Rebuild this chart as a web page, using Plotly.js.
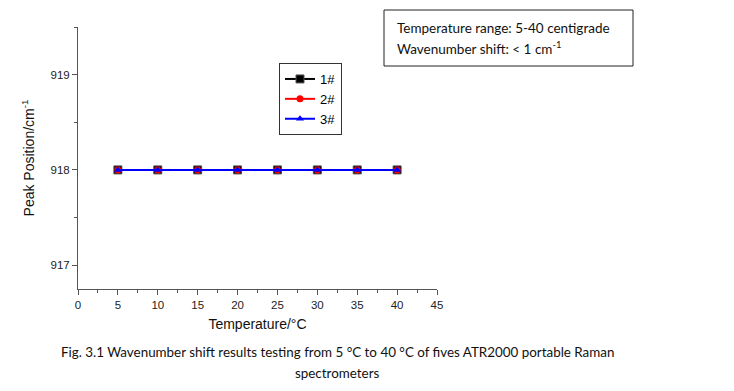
<!DOCTYPE html>
<html><head><meta charset="utf-8">
<script src="https://cdn.plot.ly/plotly-3.0.1.min.js"></script>
<style>html,body{margin:0;padding:0;background:#fff}#c{width:734px;height:391px}</style>
</head><body><div id="c"></div>
<script>
const temperature = [5, 10, 15, 20, 25, 30, 35, 40];
const peak1 = [918, 918, 918, 918, 918, 918, 918, 918];
const peak2 = [918, 918, 918, 918, 918, 918, 918, 918];
const peak3 = [918, 918, 918, 918, 918, 918, 918, 918];
const seriesNames = ['1#', '2#', '3#'];
const xTickVals = [0, 5, 10, 15, 20, 25, 30, 35, 40, 45];
const yTickVals = [917, 918, 919];

// plot area in pixels
const L = 78, R = 437, T = 27, B = 289;
const px = x => (x - L) / (R - L);
const py = y => (B - y) / (B - T);

const traces = [
  {x: temperature, y: peak1, name: seriesNames[0], mode: 'lines+markers',
   line: {color: '#000000', width: 2}, marker: {symbol: 'square', size: 8, color: '#000000', line: {color: '#555', width: 1}}},
  {x: temperature, y: peak2, name: seriesNames[1], mode: 'lines+markers',
   line: {color: '#ff0000', width: 2}, marker: {symbol: 'circle', size: 7, color: '#ff0000'}},
  {x: temperature, y: peak3, name: seriesNames[2], mode: 'lines+markers',
   line: {color: '#0000ff', width: 2}, marker: {symbol: 'triangle-up', size: 7, color: '#0000ff'}}
];

const arial = 'Liberation Sans, Arial, sans-serif';
const calibri = 'Lato, Open Sans, sans-serif';
const layout = {
  width: 734, height: 391,
  margin: {l: L, r: 734 - R, t: T, b: 391 - B, pad: 0},
  paper_bgcolor: '#fff', plot_bgcolor: '#fff',
  font: {family: arial, size: 11, color: '#222'},
  showlegend: true,
  legend: {x: px(279), y: py(63), xanchor: 'left', yanchor: 'top',
    bordercolor: '#333', borderwidth: 1, bgcolor: '#fff',
    font: {family: arial, size: 13, color: '#000'},
    tracegroupgap: 0, itemwidth: 30},
  xaxis: {range: [0, 45], tickvals: xTickVals, ticktext: xTickVals.map(String),
    showgrid: false, zeroline: false, showline: true, linecolor: '#555', linewidth: 1,
    ticks: 'outside', ticklen: 5, tickcolor: '#555', tickfont: {family: arial, size: 11.5, color: '#222'},
    minor: {dtick: 2.5, ticks: 'outside', ticklen: 3, tickcolor: '#555'},
    title: {text: 'Temperature/°C', font: {family: arial, size: 14, color: '#111'}, standoff: 9}},
  yaxis: {range: [916.75, 919.5], tickvals: yTickVals, ticktext: yTickVals.map(String),
    showgrid: false, zeroline: false, showline: true, linecolor: '#555', linewidth: 1,
    ticks: 'outside', ticklen: 5, tickcolor: '#555', tickfont: {family: arial, size: 11.5, color: '#222'},
    minor: {dtick: 0.5, ticks: 'outside', ticklen: 3, tickcolor: '#555'},
    title: {text: 'Peak Position/cm<sup>-1</sup>', font: {family: arial, size: 14, color: '#111'}, standoff: 12}},
  shapes: [
    {type: 'rect', xref: 'paper', yref: 'paper', x0: px(384), x1: px(633), y0: py(66), y1: py(10),
     line: {color: '#222', width: 1}, fillcolor: '#fff', layer: 'above'}
  ],
  annotations: [
    {xref: 'paper', yref: 'paper', x: px(395), y: py(28), xanchor: 'left', yanchor: 'middle', showarrow: false,
     text: 'Temperature range: 5-40 centigrade', font: {family: calibri, size: 13.5, color: '#111'}},
    {xref: 'paper', yref: 'paper', x: px(395), y: py(48), xanchor: 'left', yanchor: 'middle', showarrow: false,
     text: 'Wavenumber shift: < 1 cm<sup>-1</sup>', font: {family: calibri, size: 13.5, color: '#111'}},
    {xref: 'paper', yref: 'paper', x: px(337), y: py(352), xanchor: 'center', yanchor: 'middle', showarrow: false,
     text: 'Fig. 3.1 Wavenumber shift results testing from 5 °C to 40 °C of fives ATR2000 portable Raman',
     font: {family: calibri, size: 13.4, color: '#111'}},
    {xref: 'paper', yref: 'paper', x: px(337), y: py(373), xanchor: 'center', yanchor: 'middle', showarrow: false,
     text: 'spectrometers', font: {family: calibri, size: 13.4, color: '#111'}}
  ]
};

Plotly.newPlot('c', traces, layout, {displayModeBar: false, staticPlot: true});
</script></body></html>
